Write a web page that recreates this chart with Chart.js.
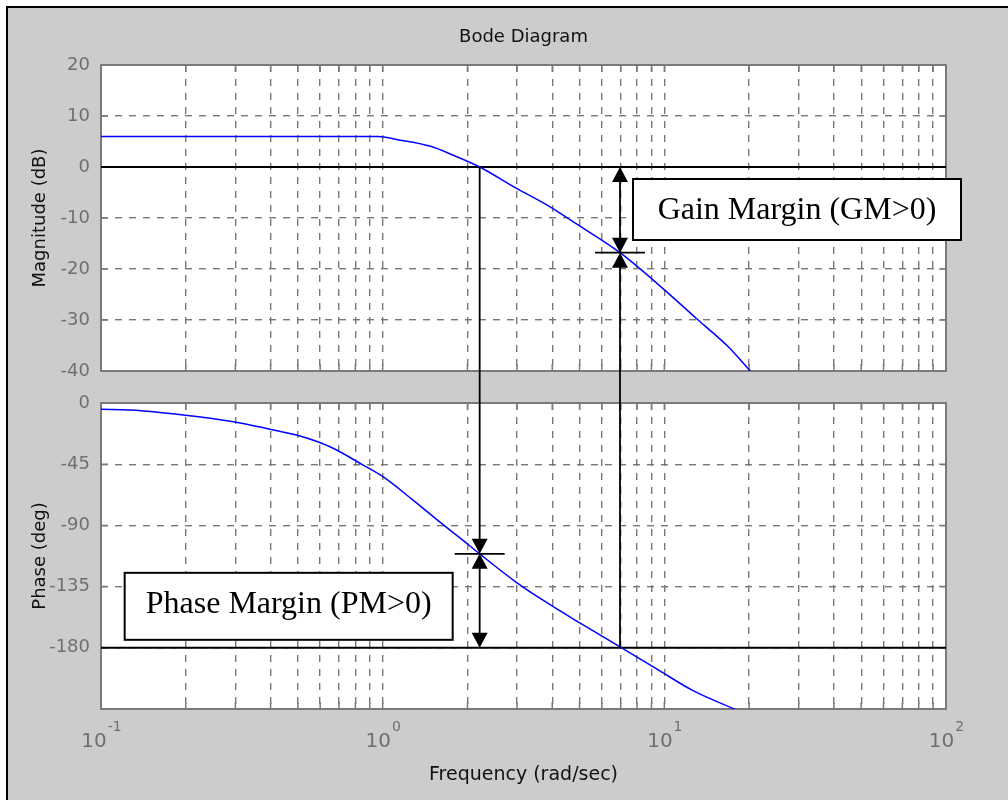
<!DOCTYPE html>
<html>
<head>
<meta charset="utf-8">
<title>Bode Diagram</title>
<script src="https://cdn.jsdelivr.net/npm/chart.js@4.4.1/dist/chart.umd.min.js"></script>
<style>
  html, body { margin: 0; padding: 0; background: #fff; }
  #frame {
    position: absolute; left: 6px; top: 6px; width: 1002px; height: 794px;
    box-sizing: border-box; background: #cccccc;
    border-left: 2px solid #000; border-top: 2px solid #000;
  }
  canvas { position: absolute; left: 0; top: 0; }
</style>
</head>
<body>
<div id="frame"></div>
<canvas id="magChart" width="1008" height="800"></canvas>
<canvas id="phaseChart" width="1008" height="800"></canvas>
<script>
// Frequency grid (rad/sec) and the decades that get a 10^n label
const freqTicks = [0.1, 0.2, 0.3, 0.4, 0.5, 0.6, 0.7, 0.8, 0.9,
                   1, 2, 3, 4, 5, 6, 7, 8, 9,
                   10, 20, 30, 40, 50, 60, 70, 80, 90, 100];
const decadeExps = [-1, 0, 1, 2];

// y tick values
const magTicks = [20, 10, 0, -10, -20, -30, -40];
const phaseTicks = [0, -45, -90, -135, -180, -225];

// Magnitude curve
const magFreq = [0.1, 0.5, 0.964, 1.12, 1.47, 1.8, 2.21, 2.99, 3.93, 4.89, 6.96, 9.64, 13.0, 16.9, 20.4];
const magDb   = [6.0, 6.0, 6.0, 5.4, 4.1, 2.2, 0.0, -4.2, -7.8, -11.2, -16.8, -23.3, -29.7, -35.3, -40.3];

// Phase curve
const phaseFreq = [0.1, 0.128, 0.196, 0.295, 0.387, 0.509, 0.65, 0.853, 1.005, 1.285, 1.597, 1.93, 2.21, 2.99, 3.93, 4.89, 6.96, 9.64, 12.7, 18.2];
const phaseDeg  = [-4.6, -5.2, -8.9, -13.8, -18.7, -24.3, -32.2, -45.7, -54.4, -71.6, -87.6, -101.0, -110.9, -132.0, -148.3, -160.4, -179.3, -197.0, -211.7, -226.0];

// Reference lines and margin points
const magRef = 0;
const phaseRef = -180;
const gainCrossFreq = 2.21;    // |G| = 0 dB here
const phaseAtGainCross = -110.9;
const phaseCrossFreq = 6.96;   // phase = -180 here
const magAtPhaseCross = -16.8;
const gmLabel = 'Gain Margin (GM>0)';
const pmLabel = 'Phase Margin (PM>0)';

const axisColor = '#7a7a7a';
const gridColor = '#787878';
const tickColor = '#6f6f6f';
const textColor = '#111111';
const sansFont = 'DejaVu Sans';

function points(xs, ys) {
    return xs.map((x, i) => ({ x: x, y: ys[i] }));
}

// white plot area + gray box with small inner tick marks (under the curves)
const plotBox = {
    id: 'plotBox',
    beforeDraw(chart) {
        const { ctx, chartArea: a } = chart;
        ctx.save();
        ctx.fillStyle = '#ffffff';
        ctx.fillRect(a.left, a.top, a.width, a.height);
        ctx.restore();
    },
    beforeDatasetsDraw(chart) {
        const { ctx, chartArea: a, scales } = chart;
        ctx.save();
        ctx.strokeStyle = axisColor;
        ctx.lineWidth = 1.5;
        ctx.beginPath();
        scales.x.ticks.forEach(t => {
            const px = scales.x.getPixelForValue(t.value);
            ctx.moveTo(px, a.top); ctx.lineTo(px, a.top + 7);
            ctx.moveTo(px, a.bottom); ctx.lineTo(px, a.bottom - 7);
        });
        scales.y.ticks.forEach(t => {
            const py = scales.y.getPixelForValue(t.value);
            ctx.moveTo(a.left, py); ctx.lineTo(a.left + 7, py);
            ctx.moveTo(a.right, py); ctx.lineTo(a.right - 7, py);
        });
        ctx.stroke();
        ctx.lineWidth = 2;
        ctx.strokeRect(a.left, a.top, a.width, a.height);
        ctx.restore();
    }
};

function drawArrow(ctx, x, tipY, dir) {
    // dir 1 points down, -1 points up
    ctx.beginPath();
    ctx.moveTo(x, tipY);
    ctx.lineTo(x - 8, tipY - dir * 15);
    ctx.lineTo(x + 8, tipY - dir * 15);
    ctx.closePath();
    ctx.fill();
}

function drawBox(ctx, left, top, w, h, text) {
    ctx.fillStyle = '#ffffff';
    ctx.fillRect(left, top, w, h);
    ctx.lineWidth = 2;
    ctx.strokeStyle = '#000000';
    ctx.strokeRect(left, top, w, h);
    ctx.fillStyle = '#000000';
    ctx.font = '32px "Liberation Serif"';
    ctx.textAlign = 'center';
    ctx.textBaseline = 'alphabetic';
    ctx.fillText(text, left + w / 2, top + 40);
}

// 10^n labels under the phase plot and the margin markers
const bodeExtras = {
    id: 'bodeExtras',
    afterDraw(chart) {
        const ctx = chart.ctx;
        const xs = chart.scales.x;
        const base = chart.chartArea.bottom;
        ctx.save();
        ctx.fillStyle = tickColor;
        ctx.textAlign = 'left';
        ctx.textBaseline = 'alphabetic';
        decadeExps.forEach(e => {
            const px = xs.getPixelForValue(Math.pow(10, e));
            ctx.font = '20px "' + sansFont + '"';
            const w1 = ctx.measureText('10').width;
            ctx.font = '14px "' + sansFont + '"';
            const w2 = ctx.measureText(String(e)).width;
            const x0 = px - (w1 + w2) / 2;
            ctx.font = '20px "' + sansFont + '"';
            ctx.fillText('10', x0, base + 38);
            ctx.font = '14px "' + sansFont + '"';
            ctx.fillText(String(e), x0 + w1 + 1, base + 22);
        });

        const mx = magChart.scales.x;
        const my = magChart.scales.y;
        const py = chart.scales.y;
        const y0 = my.getPixelForValue(magRef);
        const y180 = py.getPixelForValue(phaseRef);

        ctx.strokeStyle = '#000000';
        ctx.fillStyle = '#000000';
        ctx.lineWidth = 1.8;

        // phase margin: from 0 dB crossing down to the phase curve, then to -180
        const xp = mx.getPixelForValue(gainCrossFreq);
        const yp = py.getPixelForValue(phaseAtGainCross);
        ctx.beginPath();
        ctx.moveTo(xp, y0); ctx.lineTo(xp, yp - 14);
        ctx.moveTo(xp - 25, yp); ctx.lineTo(xp + 25, yp);
        ctx.moveTo(xp, yp + 14); ctx.lineTo(xp, y180 - 14);
        ctx.stroke();
        drawArrow(ctx, xp, yp, 1);
        drawArrow(ctx, xp, yp, -1);
        drawArrow(ctx, xp, y180, 1);

        // gain margin: from -180 crossing up to the magnitude curve, then to 0 dB
        const xg = mx.getPixelForValue(phaseCrossFreq);
        const yg = my.getPixelForValue(magAtPhaseCross);
        ctx.beginPath();
        ctx.moveTo(xg, y180); ctx.lineTo(xg, yg + 14);
        ctx.moveTo(xg - 25, yg); ctx.lineTo(xg + 25, yg);
        ctx.moveTo(xg, yg - 14); ctx.lineTo(xg, y0 + 14);
        ctx.stroke();
        drawArrow(ctx, xg, yg, -1);
        drawArrow(ctx, xg, yg, 1);
        drawArrow(ctx, xg, y0, -1);

        drawBox(ctx, xg + 13, y0 + 12, 328, 61, gmLabel);
        drawBox(ctx, xp - 355, yp + 19, 328, 67, pmLabel);
        ctx.restore();
    }
};

function xAxis(height, title) {
    return {
        type: 'logarithmic',
        min: 0.1,
        max: 100,
        afterBuildTicks: s => { s.ticks = freqTicks.map(v => ({ value: v })); },
        afterFit: s => { s.height = height; },
        ticks: { display: false },
        grid: { color: gridColor, lineWidth: 1.4, drawTicks: false },
        border: { display: false, dash: [7, 7] },
        title: title
    };
}

function yAxis(min, max, tickVals, title) {
    return {
        min: min,
        max: max,
        afterBuildTicks: s => { s.ticks = tickVals.map(v => ({ value: v })); },
        afterFit: s => { s.width = 101; },
        ticks: {
            color: tickColor,
            padding: 11,
            font: { family: sansFont, size: 18 },
            callback: v => (v === -225 ? '' : String(v))
        },
        grid: { color: gridColor, lineWidth: 1.4, drawTicks: false },
        border: { display: false, dash: [7, 7] },
        title: {
            display: true,
            text: title,
            color: textColor,
            font: { family: sansFont, size: 18 },
            padding: { top: 30, bottom: 0 }
        }
    };
}

const magChart = new Chart(document.getElementById('magChart'), {
    type: 'line',
    data: {
        datasets: [{
            data: points(magFreq, magDb),
            borderColor: '#0000ff',
            borderWidth: 1.5,
            pointRadius: 0,
            cubicInterpolationMode: 'monotone'
        }, {
            data: points([0.1, 100], [magRef, magRef]),
            borderColor: '#000000',
            borderWidth: 2,
            pointRadius: 0
        }]
    },
    options: {
        responsive: false,
        animation: false,
        events: [],
        layout: { padding: { left: 0, top: 0, right: 62, bottom: 429 } },
        scales: {
            x: xAxis(0, { display: false }),
            y: yAxis(-40, 20, magTicks, 'Magnitude (dB)')
        },
        plugins: {
            legend: { display: false },
            tooltip: { enabled: false },
            title: {
                display: true,
                text: 'Bode Diagram',
                fullSize: false,
                color: textColor,
                font: { family: sansFont, size: 18, weight: 'normal' },
                padding: { top: 27, bottom: 16.4 }
            }
        }
    },
    plugins: [plotBox]
});

const phaseChart = new Chart(document.getElementById('phaseChart'), {
    type: 'line',
    data: {
        datasets: [{
            data: points(phaseFreq, phaseDeg),
            borderColor: '#0000ff',
            borderWidth: 1.5,
            pointRadius: 0,
            cubicInterpolationMode: 'monotone'
        }, {
            data: points([0.1, 100], [phaseRef, phaseRef]),
            borderColor: '#000000',
            borderWidth: 2,
            pointRadius: 0
        }]
    },
    options: {
        responsive: false,
        animation: false,
        events: [],
        layout: { padding: { left: 0, top: 403, right: 62, bottom: 0 } },
        scales: {
            x: xAxis(91, {
                display: true,
                text: 'Frequency (rad/sec)',
                color: textColor,
                font: { family: sansFont, size: 19 },
                padding: { top: 0, bottom: 14 }
            }),
            y: yAxis(-225, 0, phaseTicks, 'Phase (deg)')
        },
        plugins: {
            legend: { display: false },
            tooltip: { enabled: false }
        }
    },
    plugins: [plotBox, bodeExtras]
});
</script>
</body>
</html>
